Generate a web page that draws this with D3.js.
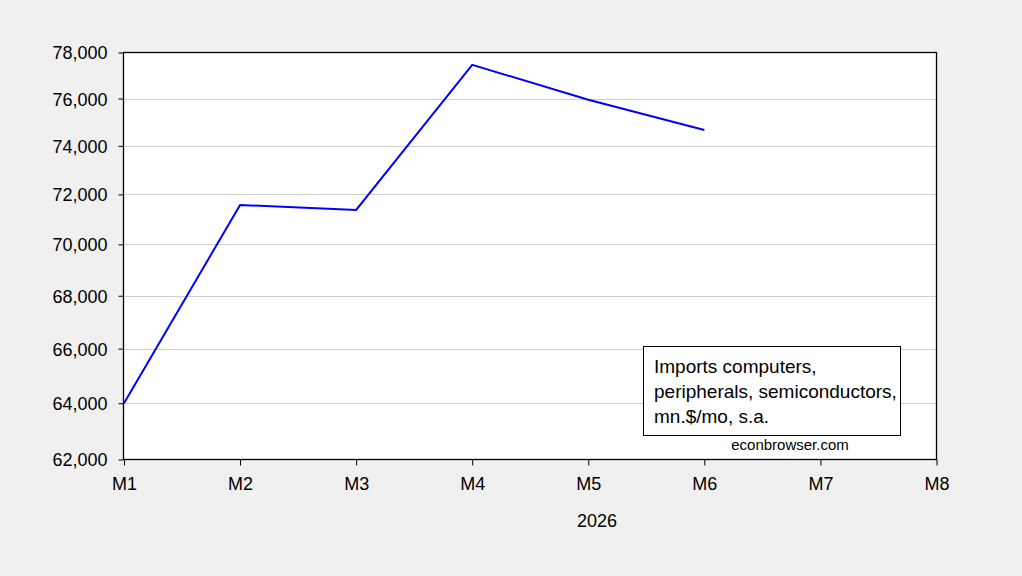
<!DOCTYPE html>
<html><head><meta charset="utf-8">
<script src="https://cdn.jsdelivr.net/npm/d3@7"></script>
<style>body{margin:0;background:#f0f0f0;}svg{display:block;}text{font-family:"Liberation Sans",Arial,sans-serif;fill:#000;}</style>
</head><body>
<svg id="c" width="1022" height="576"></svg>
<script>
const months = ["M1","M2","M3","M4","M5","M6"];
const values = [64000, 71570, 71370, 77460, 75950, 74660];
const xTickLabels = ["M1","M2","M3","M4","M5","M6","M7","M8"];
const yTicks = [62000,64000,66000,68000,70000,72000,74000,76000,78000];
const yearLabel = "2026";
const legendLines = ["Imports computers,","peripherals, semiconductors,","mn.$/mo, s.a."];
const credit = "econbrowser.com";

const svg = d3.select("#c");
const L=123.5, R=936.5, T=52.5, B=459.5;
svg.append("rect").attr("width",1022).attr("height",576).attr("fill","#f0f0f0");
svg.append("rect").attr("x",L).attr("y",T).attr("width",R-L).attr("height",B-T).attr("fill","#fff");

const x = d3.scalePoint().domain(xTickLabels).range([L+0.5,R]);
const y = d3.scaleLog().domain([62000,78000]).range([B,T]);

// grid
svg.append("g").selectAll("line").data(yTicks.slice(1,-1)).join("line")
  .attr("x1",L).attr("x2",R).attr("y1",d=>Math.round(y(d))+0.5).attr("y2",d=>Math.round(y(d))+0.5)
  .attr("stroke","#cfcfcf").attr("stroke-width",1);

// axes
const fmt = d3.format(",");
const ya = svg.append("g").attr("transform",`translate(${L},0)`)
  .call(d3.axisLeft(y).tickValues(yTicks).tickFormat(fmt).tickSize(5).tickPadding(11));
const xa = svg.append("g").attr("transform",`translate(0,${B})`)
  .call(d3.axisBottom(x).tickSize(6).tickPadding(11.5));
[ya,xa].forEach(a=>{a.select(".domain").remove();
  a.selectAll("line").attr("stroke","#000");
  a.selectAll("text").attr("font-size",18).attr("font-family","'Liberation Sans',Arial,sans-serif").attr("fill","#000");});
ya.selectAll("text").attr("dy","0.36em");

// frame
svg.append("rect").attr("x",L).attr("y",T).attr("width",R-L).attr("height",B-T)
  .attr("fill","none").attr("stroke","#000").attr("stroke-width",1.3);

// line
const line = d3.line().x((d,i)=>x(months[i])).y(d=>y(d));
svg.append("path").datum(values).attr("d",line).attr("fill","none")
  .attr("stroke","#0000ff").attr("stroke-width",2);

svg.append("text").attr("x",597).attr("y",527).attr("text-anchor","middle")
  .attr("font-size",18).text(yearLabel);

// legend
svg.append("rect").attr("x",643.5).attr("y",346.5).attr("width",257).attr("height",89)
  .attr("fill","#fff").attr("stroke","#000").attr("stroke-width",1);
svg.append("g").selectAll("text").data(legendLines).join("text")
  .attr("x",654).attr("y",(d,i)=>372.5+i*25).attr("font-size",19).text(d=>d);
svg.append("text").attr("x",790).attr("y",450).attr("text-anchor","middle").attr("font-size",15).text(credit);
</script>
</body></html>
